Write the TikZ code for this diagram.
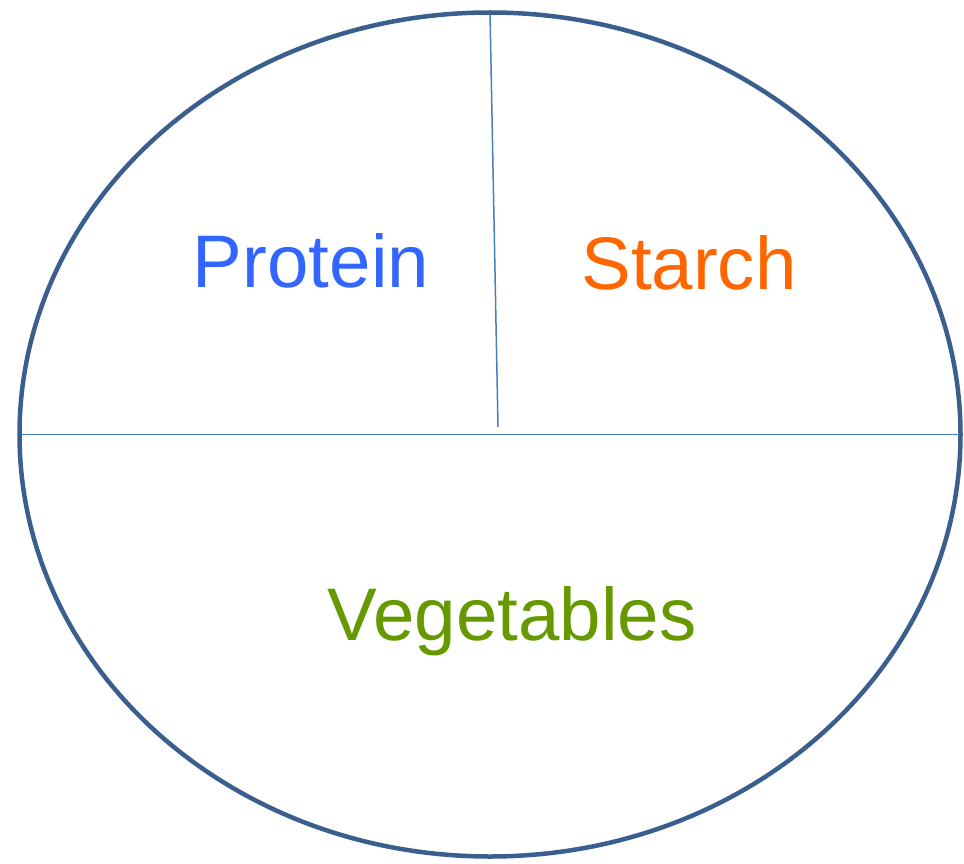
\documentclass[tikz,border=0pt]{standalone}
\usepackage{fontspec}
\setmainfont{Liberation Sans}
\definecolor{rimc}{HTML}{3A5F8F}
\definecolor{linec}{HTML}{4A7EBB}
\definecolor{protc}{HTML}{3366FF}
\definecolor{starc}{HTML}{FF6600}
\definecolor{vegc}{HTML}{669900}
\begin{document}
\begin{tikzpicture}[x=1pt,y=-1pt,
  lbl/.style={font=\fontsize{74.5}{80}\selectfont, anchor=base, inner sep=0pt},
  divider/.style={draw=linec, line width=1.5pt}]
\useasboundingbox (0,0) rectangle (964,864);
\coordinate (c) at (490,434.5);
\coordinate (top) at (490,12.5);
\coordinate (mid) at (498,427);
\coordinate (left) at (19.5,434.5);
\coordinate (right) at (960.5,434.5);
\draw[divider] (top) -- (mid);
\draw[divider] (left) -- (right);
\draw[draw=rimc, line width=4.5pt] (c) ellipse [x radius=470.5, y radius=422];
\node[lbl, text=protc] (protein) at (311,287) {Protein};
\node[lbl, text=starc] (starch) at (689,289) {Starch};
\node[lbl, text=vegc] (veg) at (512,640) {Vegetables};
\end{tikzpicture}
\end{document}
